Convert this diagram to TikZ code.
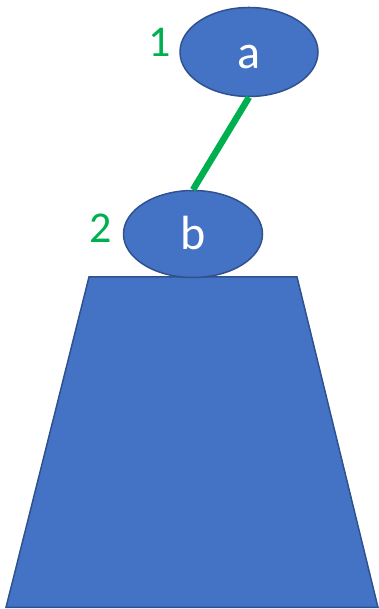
\documentclass[tikz,border=0pt]{standalone}
\usepackage{fontspec}
\setmainfont{Carlito}
\usetikzlibrary{shapes.geometric}
\definecolor{fillblue}{HTML}{4472C4}
\definecolor{edgeblue}{HTML}{2F528F}
\definecolor{lblgreen}{HTML}{00B050}
\tikzset{
  blob/.style={ellipse, draw=edgeblue, fill=fillblue, line width=1.5pt, inner sep=0pt},
  letter/.style={text=white, font=\fontsize{48}{48}\selectfont, inner sep=0pt},
  num/.style={text=lblgreen, font=\fontsize{44}{44}\selectfont, inner sep=0pt},
  link/.style={draw=lblgreen, line width=6.5pt}
}
\begin{document}
\begin{tikzpicture}[x=1pt,y=1pt]
\useasboundingbox (0,0) rectangle (379,609);
% trapezoid base
\filldraw[draw=edgeblue, fill=fillblue, line width=1.5pt] (89,332) coordinate (tl) -- (297,332) coordinate (tr) -- (378,1.5) coordinate (br) -- (6,1.5) coordinate (bl) -- cycle;
\node[blob, minimum width=138pt, minimum height=89pt] (a) at (249,557) {};
\node[blob, minimum width=139pt, minimum height=87pt] (b) at (193,375) {};
\node[letter, anchor=base] (ta) at (249,540) {a};
\node[letter, anchor=base] (tb) at (193,359) {b};
\draw[link] (a.south) -- (b.north);
\node[num, anchor=base] (n1) at (160,552) {1};
\node[num, anchor=base] (n2) at (101,366) {2};
\end{tikzpicture}
\end{document}
